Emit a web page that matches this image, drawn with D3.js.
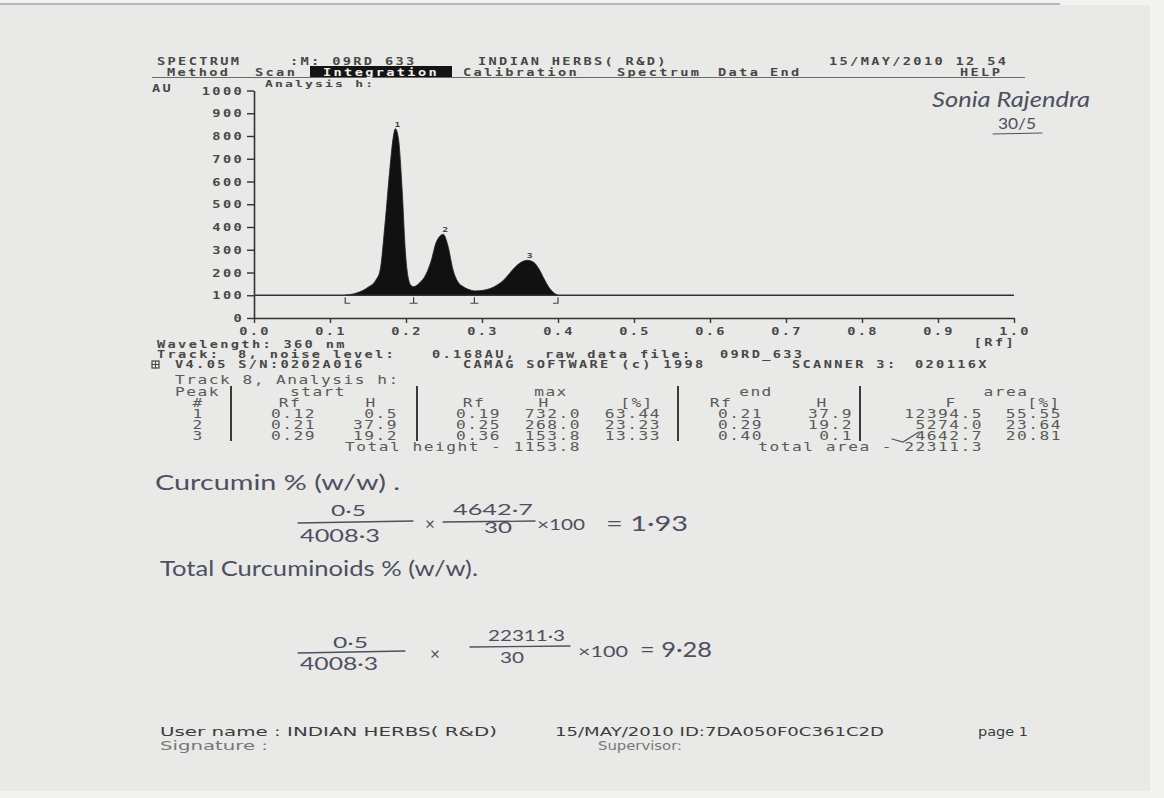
<!DOCTYPE html>
<html>
<head>
<meta charset="utf-8">
<script src="https://cdn.jsdelivr.net/npm/d3@7"></script>
<style>
  html, body { margin: 0; padding: 0; background: #f3f3f1; }
  svg { display: block; }
  .dot  { font-family: "DejaVu Sans Mono", monospace; font-weight: bold; fill: #474747; }
  .tbl  { font-family: "DejaVu Sans Mono", monospace; fill: #5a5a5a; }
  .hand { font-family: "Lato", "Open Sans", sans-serif; font-weight: 400; fill: #4c5060; }
  .foot { font-family: "DejaVu Sans", sans-serif; fill: #3c3c3c; }
</style>
</head>
<body>
<svg id="page"></svg>
<script>
// densitogram trace (Rf vs AU, baseline sits at 100 AU)
const traceRf = [0.120, 0.135, 0.150, 0.160, 0.166, 0.172, 0.179, 0.183, 0.186, 0.190, 0.195, 0.199,
                 0.203, 0.207, 0.210, 0.218, 0.226, 0.233, 0.240, 0.249, 0.255, 0.262, 0.268, 0.275,
                 0.283, 0.290, 0.300, 0.311, 0.320, 0.328, 0.336, 0.344, 0.352, 0.360, 0.368, 0.375,
                 0.382, 0.388, 0.394, 0.400];
const traceAu = [100.5, 110, 135, 165, 211, 400, 664, 790, 832, 790, 560, 300,
                 175, 142, 137.9, 155, 190, 250, 335, 368, 320, 210, 160, 138,
                 125, 119.2, 121, 130, 145, 165, 195, 225, 246, 253.8, 245, 215,
                 170, 135, 112, 100.1];
const baselineAu = 100;

const apexRf = [0.186, 0.249, 0.360];
const apexAu = [832, 368, 253.8];
const boundRf = [0.12, 0.21, 0.29, 0.40];
const boundKind = ['L', 'T', 'T', 'J'];

const yTicks = [0, 100, 200, 300, 400, 500, 600, 700, 800, 900, 1000];
const xTicks = [0, 0.1, 0.2, 0.3, 0.4, 0.5, 0.6, 0.7, 0.8, 0.9, 1.0];

// integration table
const peakNo  = ['1', '2', '3'];
const startRf = ['0.12', '0.21', '0.29'];
const startH  = ['0.5', '37.9', '19.2'];
const maxRf   = ['0.19', '0.25', '0.36'];
const maxH    = ['732.0', '268.0', '153.8'];
const maxPct  = ['63.44', '23.23', '13.33'];
const endRf   = ['0.21', '0.29', '0.40'];
const endH    = ['37.9', '19.2', '0.1'];
const areaF   = ['12394.5', '5274.0', '4642.7'];
const areaPct = ['55.55', '23.64', '20.81'];
const totalHeight = '1153.8';
const totalArea = '22311.3';

const W = 1164, H = 798;
const svg = d3.select('#page').attr('width', W).attr('height', H);

// paper
svg.append('rect').attr('width', W).attr('height', H).attr('fill', '#f3f3f1');
svg.append('rect').attr('x', 0).attr('y', 5).attr('width', 1150).attr('height', 786).attr('fill', '#e9e9e7');
svg.append('line').attr('x1', 0).attr('x2', 1060).attr('y1', 4).attr('y2', 4)
   .attr('stroke', '#b8b8b8').attr('stroke-width', 2);

// stretched mono text like the printer output
function mono(x0, y0, txt, o = {}) {
  const t = svg.append('text')
    .attr('class', o.cls || 'dot')
    .attr('transform', `translate(${x0},${y0}) scale(${o.sx || 1.3},1)`)
    .attr('font-size', o.fs || 10.5)
    .attr('letter-spacing', o.ls == null ? 1.8 : o.ls)
    .attr('text-anchor', o.anchor || 'start')
    .text(txt);
  if (o.fill) t.style('fill', o.fill);
  return t;
}
function tbl(x0, y0, txt, anchor) {
  return mono(x0, y0, txt, {cls: 'tbl', fs: 12, sx: 1.35, ls: 1.1, anchor: anchor});
}
function hand(x0, y0, txt, fs, len) {
  const t = svg.append('text').attr('class', 'hand')
    .attr('x', x0).attr('y', y0).attr('font-size', fs).text(txt);
  if (len) t.attr('textLength', len).attr('lengthAdjust', 'spacingAndGlyphs');
  return t;
}
function stroke(d, w) {
  svg.append('path').attr('d', d).attr('fill', 'none')
     .attr('stroke', '#4c5060').attr('stroke-width', w || 1.3).attr('stroke-linecap', 'round');
}

// ---- header / menu ----
mono(157, 65, 'SPECTRUM');
mono(290, 65, ':M: 09RD_633');
mono(478, 65, 'INDIAN HERBS( R&D)');
mono(829, 65, '15/MAY/2010 12 54');

svg.append('line').attr('x1', 152).attr('x2', 1025).attr('y1', 77.5).attr('y2', 77.5)
   .attr('stroke', '#6a6a6a').attr('stroke-width', 1.2);
svg.append('rect').attr('x', 310).attr('y', 66).attr('width', 142).attr('height', 11).attr('fill', '#141414');
mono(167, 75.5, 'Method');
mono(255, 75.5, 'Scan');
mono(323, 75.5, 'Integration', {fill: '#f0f0f0'});
mono(463, 75.5, 'Calibration');
mono(617, 75.5, 'Spectrum');
mono(718, 75.5, 'Data');
mono(770, 75.5, 'End');
mono(960, 75.5, 'HELP');

mono(265, 87, 'Analysis h:', {fs: 9, sx: 1.45, ls: 1.5});
mono(152, 92, 'AU');

// ---- chart ----
const x = d3.scaleLinear().domain([0, 1]).range([254, 1014]);
const y = d3.scaleLinear().domain([0, 1000]).range([318, 90.5]);

const yAxis = svg.append('g').attr('transform', 'translate(254,0)')
  .call(d3.axisLeft(y).tickValues(yTicks).tickSize(7).tickSizeOuter(0).tickFormat(''));
const xAxis = svg.append('g').attr('transform', 'translate(0,318)')
  .call(d3.axisBottom(x).tickValues(xTicks).tickSize(5).tickSizeOuter(0).tickFormat(''));
[yAxis, xAxis].forEach(g => {
  g.select('.domain').attr('stroke', '#333').attr('stroke-width', 1.6);
  g.selectAll('.tick line').attr('stroke', '#333').attr('stroke-width', 1.4);
});

yTicks.forEach(v => mono(244, y(v) + 4, String(v), {anchor: 'end'}));
xTicks.forEach(v => mono(x(v) + 1, 335, v.toFixed(1), {anchor: 'middle'}));
mono(1016, 346, '[Rf]', {anchor: 'end'});

// filled peaks above the baseline
const idx = d3.range(traceRf.length);
const area = d3.area().curve(d3.curveMonotoneX)
  .x(i => x(traceRf[i])).y0(y(baselineAu)).y1(i => y(traceAu[i]));
svg.append('path').datum(idx).attr('d', area)
   .attr('fill', '#111').attr('stroke', '#222').attr('stroke-width', 0.8);

svg.append('line').attr('x1', x(0)).attr('x2', x(1)).attr('y1', y(baselineAu)).attr('y2', y(baselineAu))
   .attr('stroke', '#333').attr('stroke-width', 1.6);

// peak start / end markers under the baseline
boundRf.forEach((r, i) => {
  const bx = x(r), by = y(baselineAu) + 2;
  let d = `M${bx},${by} V${by + 6}`;
  if (boundKind[i] === 'L') d += ` H${bx + 5}`;
  if (boundKind[i] === 'J') d += ` H${bx - 5}`;
  if (boundKind[i] === 'T') d = `M${bx},${by} V${by + 6} M${bx - 4},${by + 6} H${bx + 4}`;
  svg.append('path').attr('d', d).attr('fill', 'none').attr('stroke', '#444').attr('stroke-width', 1.2);
});
apexRf.forEach((r, i) => mono(x(r) + 2, y(apexAu[i]) - 2, peakNo[i], {fs: 7.5, sx: 1.3, ls: 0, anchor: 'middle'}));

// ---- info lines ----
mono(157, 347.5, 'Wavelength: 360 nm');
mono(157, 357.5, 'Track:');
mono(238, 357.5, '8, noise level:');
mono(432, 357.5, '0.168AU,');
mono(545, 357.5, 'raw data file:');
mono(720, 357.5, '09RD_633');
svg.append('rect').attr('x', 152).attr('y', 361).attr('width', 7).attr('height', 7)
   .attr('fill', 'none').attr('stroke', '#444').attr('stroke-width', 1.2);
svg.append('path').attr('d', 'M155.5,361 V368 M152,364.5 H159').attr('stroke', '#444').attr('stroke-width', 1);
mono(175, 368, 'V4.05 S/N:0202A016');
mono(463, 368, 'CAMAG SOFTWARE (c) 1998');
mono(792, 368, 'SCANNER 3:');
mono(915, 368, '020116X');

// ---- integration table ----
tbl(175, 384, 'Track 8, Analysis h:');
const rowY = [418, 429, 440];
tbl(175, 396, 'Peak');
tbl(318, 396, 'start', 'middle');
tbl(551, 396, 'max', 'middle');
tbl(756, 396, 'end', 'middle');
tbl(1006, 396, 'area', 'middle');
tbl(198, 407, '#', 'middle');
tbl(290, 407, 'Rf', 'middle');
tbl(371, 407, 'H', 'middle');
tbl(474, 407, 'Rf', 'middle');
tbl(544, 407, 'H', 'middle');
tbl(637, 407, '[%]', 'middle');
tbl(721, 407, 'Rf', 'middle');
tbl(822, 407, 'H', 'middle');
tbl(951, 407, 'F', 'middle');
tbl(1044, 407, '[%]', 'middle');
rowY.forEach((ry, i) => {
  tbl(198, ry, peakNo[i], 'middle');
  tbl(316, ry, startRf[i], 'end');
  tbl(398, ry, startH[i], 'end');
  tbl(501, ry, maxRf[i], 'end');
  tbl(581, ry, maxH[i], 'end');
  tbl(661, ry, maxPct[i], 'end');
  tbl(763, ry, endRf[i], 'end');
  tbl(853, ry, endH[i], 'end');
  tbl(983, ry, areaF[i], 'end');
  tbl(1062, ry, areaPct[i], 'end');
});
tbl(581, 451, 'Total height - ' + totalHeight, 'end');
tbl(983, 451, 'total area - ' + totalArea, 'end');
[231, 417, 678, 860].forEach(bx => {
  svg.append('line').attr('x1', bx).attr('x2', bx).attr('y1', 386).attr('y2', 441)
     .attr('stroke', '#3a3a3a').attr('stroke-width', 2);
});
// pen tick on the curcumin area
stroke('M892,439 L903,442 L919,432', 1.2);

// ---- handwritten calculation ----
hand(155, 490, 'Curcumin % (w/w) .', 21, 245);
hand(331, 516, '0·5', 16, 35);
stroke('M298,523 L413,521');
hand(300, 542, '4008·3', 17, 80);
hand(425, 530, '×', 17);
hand(453, 515, '4642·7', 15, 80);
stroke('M443,522 L535,521');
hand(484, 533, '30', 15, 28);
hand(537, 530, '×100', 16, 48);
hand(606, 531, '= 1·93', 21, 82);

hand(160, 576, 'Total Curcuminoids % (w/w).', 21, 318);

hand(333, 648, '0·5', 16, 35);
stroke('M298,653 L405,651');
hand(300, 670, '4008·3', 17, 78);
hand(430, 660, '×', 17);
hand(488, 641, '22311·3', 15, 77);
stroke('M470,647 L570,646');
hand(500, 663, '30', 15, 24);
hand(578, 657, '×100', 16, 50);
hand(640, 657, '= 9·28', 21, 72);

// signature at top right
svg.append('text').attr('class', 'hand').attr('x', 932).attr('y', 107).attr('font-size', 21)
   .attr('font-style', 'italic').attr('textLength', 158).attr('lengthAdjust', 'spacingAndGlyphs')
   .text('Sonia Rajendra');
hand(998, 129, '30/5', 15, 38);
stroke('M993,134 L1042,133', 1);

// ---- footer ----
function foot(x0, y0, txt, len, fill) {
  const t = svg.append('text').attr('class', 'foot').attr('x', x0).attr('y', y0)
     .attr('font-size', 12).attr('textLength', len).attr('lengthAdjust', 'spacingAndGlyphs')
     .text(txt);
  if (fill) t.style('fill', fill);
}
foot(160, 736, 'User name : INDIAN HERBS( R&D)', 337);
foot(555, 736, '15/MAY/2010 ID:7DA050F0C361C2D', 329);
foot(978, 736, 'page 1', 50);
foot(160, 750, 'Signature :', 108, '#777');
foot(598, 750, 'Supervisor:', 84, '#777');
</script>
</body>
</html>
